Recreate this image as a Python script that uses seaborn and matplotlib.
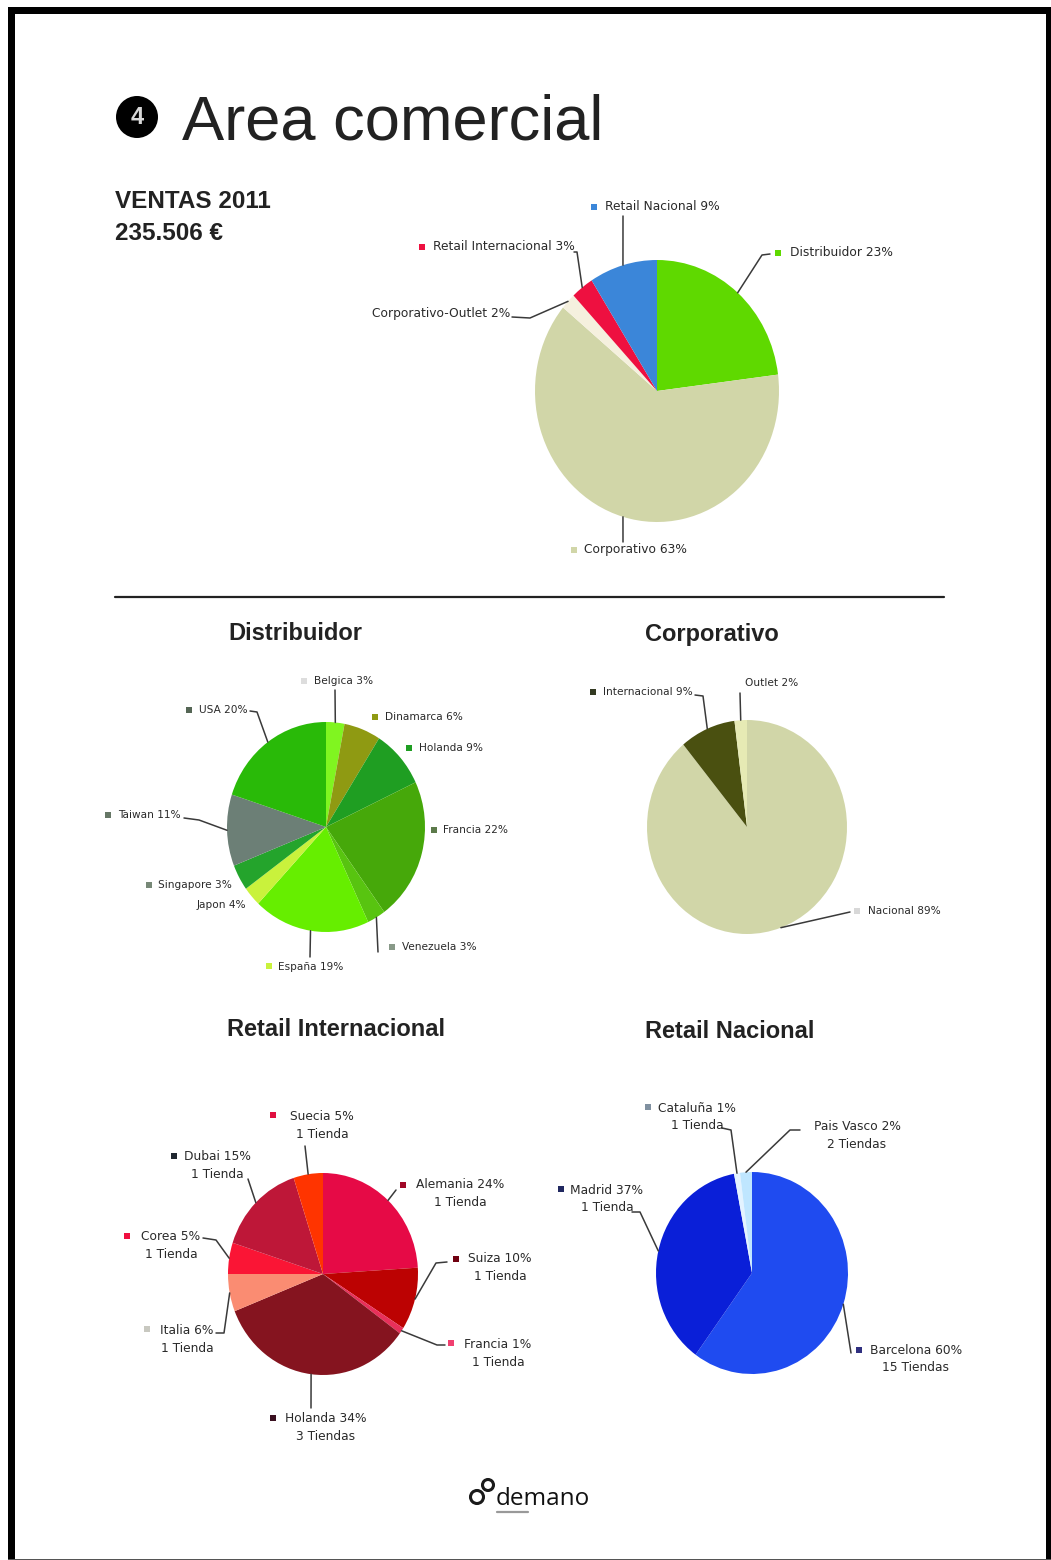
import matplotlib
matplotlib.use("Agg")
import matplotlib.pyplot as plt
import numpy as np
import seaborn as sns
from matplotlib.patches import Circle, Rectangle

W, H = 1051, 1560
sns.set_theme(style="white")
plt.rcParams["font.family"] = ["DejaVu Sans"]

# Sales shares, clockwise from twelve o'clock
ventas_names = ["Distribuidor", "Corporativo", "Corporativo-Outlet", "Retail Internacional", "Retail Nacional"]
ventas_vals = [23, 63, 2, 3, 9]
ventas_cols = ["#5FD900", "#D1D6A8", "#F5F0DE", "#EE1040", "#3B86D9"]

dist_names = ["Belgica", "Dinamarca", "Holanda", "Francia", "Venezuela", "España", "Singapore", "Japon", "Taiwan", "USA"]
dist_vals = [3, 6, 9, 22, 3, 19, 3, 4, 11, 20]
dist_cols = ["#80F520", "#8F9A12", "#1F9E22", "#46A80A", "#58C410", "#66EE00", "#C9F23C", "#24A42C", "#6C7F76", "#29BA08"]

corp_names = ["Nacional", "Internacional", "Outlet"]
corp_vals = [89, 9, 2]
corp_cols = ["#D1D6A8", "#4A5010", "#E6EAB4"]

rint_names = ["Alemania", "Suiza", "Francia", "Holanda", "Italia", "Corea", "Dubai", "Suecia"]
rint_vals = [24, 10, 1, 34, 6, 5, 15, 5]
rint_shops = ["1 Tienda", "1 Tienda", "1 Tienda", "3 Tiendas", "1 Tienda", "1 Tienda", "1 Tienda", "1 Tienda"]
rint_cols = ["#E60A46", "#BC0202", "#E8305A", "#85141F", "#FA8C72", "#FA1535", "#BE1738", "#FF3400"]

rnac_names = ["Barcelona", "Madrid", "Cataluña", "Pais Vasco"]
rnac_vals = [60, 37, 1, 2]
rnac_shops = ["15 Tiendas", "1 Tienda", "1 Tienda", "2 Tiendas"]
rnac_cols = ["#1F4BF0", "#0A1FD8", "#E4F3FF", "#BFE6FF"]

fig = plt.figure(figsize=(W / 100, H / 100), dpi=100, facecolor="white")

# Full-page layer in pixel coordinates for lettering and leader lines
page = fig.add_axes([0, 0, 1, 1], zorder=5)
page.set_xlim(0, W)
page.set_ylim(H, 0)
page.axis("off")
page.patch.set_alpha(0)


def draw_pie(values, colors, cx, cy, rx, ry):
    """Elliptical pie running clockwise from the top; returns a slice-midpoint lookup."""
    pad = 1.02
    ax = fig.add_axes([(cx - rx * pad) / W, 1 - (cy + ry * pad) / H, 2 * rx * pad / W, 2 * ry * pad / H], zorder=2)
    ax.pie(values, colors=colors, startangle=90, counterclock=False, radius=1,
           wedgeprops={"linewidth": 0})
    ax.set_aspect("auto")
    ax.set_xlim(-pad, pad)
    ax.set_ylim(-pad, pad)
    shares = np.asarray(values, float) / np.sum(values)
    mids = (np.cumsum(shares) - shares / 2) * 2 * np.pi
    return [(cx + rx * np.sin(m), cy - ry * np.cos(m)) for m in mids]


def leader(edge, *elbows):
    pts = [edge, *elbows]
    page.plot([p[0] for p in pts], [p[1] for p in pts], color="#3A3A3A", lw=1.1,
              solid_joinstyle="round", zorder=3)


def swatch(x, y, color):
    page.add_patch(Rectangle((x - 3, y - 3), 6, 6, color=color, lw=0, zorder=4))


def label(x, y, text, ha="left", size=8.8):
    page.text(x, y, text, ha=ha, va="center", fontsize=size, color="#2A2A2A", zorder=4)


def pct(names, vals, i):
    return f"{names[i]} {vals[i]}%"


# Page frame
for r in [(8, 7, 7, 1553), (8, 7, 1043, 7), (1046, 7, 5, 1553)]:
    page.add_patch(Rectangle((r[0], r[1]), r[2], r[3], color="black", lw=0))
page.add_patch(Rectangle((8, 1558.5), 1043, 1.5, color="#555555", lw=0))

# Heading
page.add_patch(Circle((137, 117), 21, color="black", lw=0))
page.text(137, 118, "4", ha="center", va="center", color="#D8D8D8", fontsize=17, fontweight="bold",
          family=["Liberation Sans"])
page.text(182, 140, "Area comercial", ha="left", va="baseline", fontsize=45.5, color="#222222",
          family=["Liberation Sans"])
page.text(115, 202, "VENTAS 2011", ha="left", va="center", fontsize=17.5, fontweight="bold",
          color="#222222", family=["Liberation Sans"])
page.text(115, 233, "235.506 €", ha="left", va="center", fontsize=17.5, fontweight="bold",
          color="#222222", family=["Liberation Sans"])
page.plot([115, 944], [597, 597], color="#222222", lw=1.6)

for x, y, t in [(295, 634, "Distribuidor"), (712, 634, "Corporativo"),
                (336, 1029, "Retail Internacional"), (730, 1031, "Retail Nacional")]:
    page.text(x, y, t, ha="center", va="center", fontsize=17, fontweight="bold", color="#222222",
              family=["Liberation Sans"])

# Total sales
e = draw_pie(ventas_vals, ventas_cols, 657, 391, 122, 131)
leader(e[0], (762, 255), (770, 254))
swatch(778, 253, ventas_cols[0]); label(790, 253, pct(ventas_names, ventas_vals, 0))
leader(e[1], (623, 542))
swatch(574, 550, ventas_cols[1]); label(584, 550, pct(ventas_names, ventas_vals, 1))
leader(e[2], (530, 318), (512, 317))
label(510, 313, pct(ventas_names, ventas_vals, 2), ha="right")
leader(e[3], (577, 252), (574, 252))
swatch(422, 247, ventas_cols[3]); label(433, 247, pct(ventas_names, ventas_vals, 3))
leader(e[4], (623, 216))
swatch(594, 207, ventas_cols[4]); label(605, 207, pct(ventas_names, ventas_vals, 4))

# Distributor breakdown
small = 7.6
e = draw_pie(dist_vals, dist_cols, 326, 827, 99, 105)
leader(e[0], (335, 690))
swatch(304, 681, "#DDDDDD"); label(314, 681, pct(dist_names, dist_vals, 0), size=small)
swatch(375, 717, dist_cols[1]); label(385, 717, pct(dist_names, dist_vals, 1), size=small)
swatch(409, 748, dist_cols[2]); label(419, 748, pct(dist_names, dist_vals, 2), size=small)
swatch(434, 830, "#5C7A4A"); label(443, 830, pct(dist_names, dist_vals, 3), size=small)
leader(e[4], (378, 952))
swatch(392, 947, "#889988"); label(402, 947, pct(dist_names, dist_vals, 4), size=small)
leader(e[5], (310, 957))
swatch(269, 966, dist_cols[6]); label(278, 967, pct(dist_names, dist_vals, 5), size=small)
swatch(149, 885, "#778877"); label(158, 885, pct(dist_names, dist_vals, 6), size=small)
label(246, 905, pct(dist_names, dist_vals, 7), ha="right", size=small)
leader(e[8], (199, 820), (184, 818))
swatch(108, 815, "#667766"); label(118, 815, pct(dist_names, dist_vals, 8), size=small)
leader(e[9], (257, 712), (250, 711))
swatch(189, 710, "#556655"); label(199, 710, pct(dist_names, dist_vals, 9), size=small)

# Corporate breakdown
e = draw_pie(corp_vals, corp_cols, 747, 827, 100, 107)
leader(e[0], (850, 912))
swatch(857, 911, "#D8D8D8"); label(868, 911, pct(corp_names, corp_vals, 0), size=small)
leader(e[1], (703, 696), (695, 695))
swatch(593, 692, "#333A22"); label(603, 692, pct(corp_names, corp_vals, 1), size=small)
leader(e[2], (740, 693))
label(745, 683, pct(corp_names, corp_vals, 2), size=small)

# International retail breakdown
e = draw_pie(rint_vals, rint_cols, 323, 1274, 95, 101)
rint_layout = [(460, 1185, 403, 1185, "#A00828"), (500, 1259, 456, 1259, "#700010"),
               (498, 1344, 451, 1343, "#F04070"), (326, 1418, 273, 1418, "#3A1020"),
               (187, 1330, 147, 1329, "#C8C8C0"), (171, 1237, 127, 1236, "#F01040"),
               (217, 1157, 174, 1156, "#202830"), (322, 1116, 273, 1115, "#E01040")]
for i, (tx, ty, sx, sy, sc) in enumerate(rint_layout):
    swatch(sx, sy, sc)
    label(tx, ty, pct(rint_names, rint_vals, i), ha="center")
    label(tx, ty + 18, rint_shops[i], ha="center")
leader(e[0], (396, 1190))
leader(e[1], (436, 1263), (447, 1262))
leader(e[2], (437, 1345), (445, 1345))
leader(e[3], (311, 1408))
leader(e[4], (224, 1333), (216, 1333))
leader(e[5], (216, 1240), (203, 1238))
leader(e[6], (248, 1179))
leader(e[7], (305, 1146))

# Domestic retail breakdown
e = draw_pie(rnac_vals, rnac_cols, 752, 1273, 96, 101)
rnac_layout = [(916, 1350, 859, 1350, "#303080"), (607, 1190, 561, 1189, "#202860"),
               (697, 1108, 648, 1107, "#8090A0"), (857, 1127, None, None, None)]
for i, (tx, ty, sx, sy, sc) in enumerate(rnac_layout):
    if sx is not None:
        swatch(sx, sy, sc)
    label(tx, ty, pct(rnac_names, rnac_vals, i), ha="center")
    label(tx, ty + 17.5, rnac_shops[i], ha="center")
leader(e[0], (851, 1353))
leader(e[1], (640, 1212), (632, 1212))
leader(e[2], (731, 1130), (722, 1128))
leader(e[3], (790, 1130), (800, 1130))

# Company mark
page.add_patch(Circle((477, 1497), 6.5, fill=False, ec="#1A1A1A", lw=2.2))
page.add_patch(Circle((488, 1485), 5.5, fill=False, ec="#1A1A1A", lw=2.2))
page.text(496, 1505, "demano", ha="left", va="baseline", fontsize=17.5, color="#111111",
          family=["Open Sans"])
page.plot([497, 528], [1512, 1512], color="#999999", lw=1.6)

fig.savefig("out.png", dpi=100, facecolor="white")
